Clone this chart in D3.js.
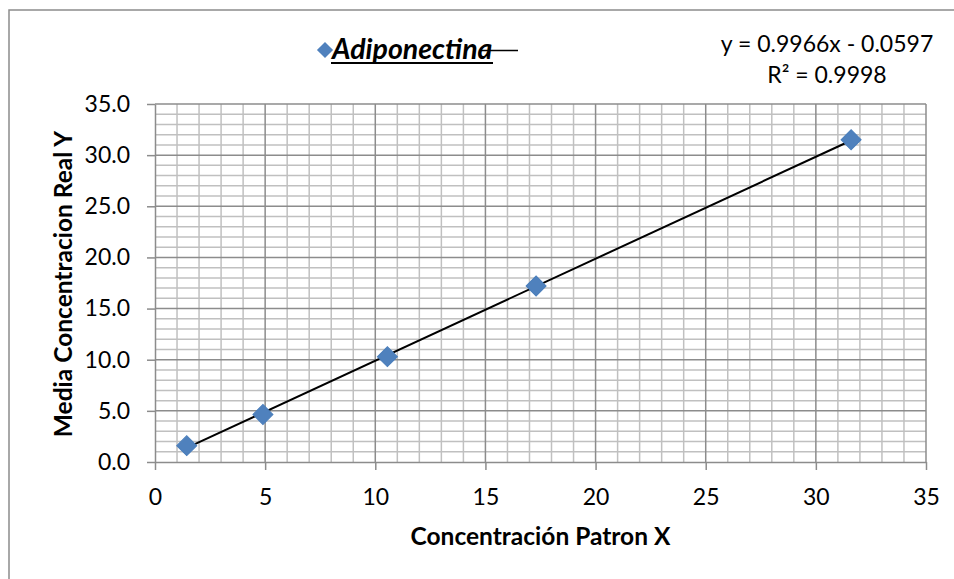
<!DOCTYPE html>
<html>
<head>
<meta charset="utf-8">
<script src="https://cdn.jsdelivr.net/npm/d3@7"></script>
<style>
  body { margin: 0; background: #fff; }
  svg { display: block; font-family: Lato, "Open Sans", sans-serif; }
</style>
</head>
<body>
<svg width="954" height="579"></svg>
<script>
// Data
var xVals = [1.44, 4.9, 10.55, 17.3, 31.6];
var yVals = [1.6, 4.65, 10.3, 17.2, 31.5];
var xTicks = [0, 5, 10, 15, 20, 25, 30, 35];
var yTicks = [0, 5, 10, 15, 20, 25, 30, 35];
var trendSlope = 0.9966;
var trendIntercept = -0.0597;
var seriesName = "Adiponectina";
var eqLines = ["y = 0.9966x - 0.0597", "R² = 0.9998"];

var svg = d3.select("svg");

// plot area
var plotL = 155, plotR = 926, plotT = 104, plotB = 462;

var x = d3.scaleLinear().domain([0, 35]).range([plotL, plotR]);
var y = d3.scaleLinear().domain([0, 35]).range([plotB, plotT]);

// outer chart border (only left/top visible in the crop)
svg.append("rect")
    .attr("x", 9).attr("y", 10)
    .attr("width", 1000).attr("height", 700)
    .attr("fill", "none")
    .attr("stroke", "#8c8c8c")
    .attr("stroke-width", 1.5);

// minor grid
var minor = d3.range(0, 36).filter(d => d % 5 !== 0);
var grid = svg.append("g");
grid.selectAll(".mx").data(minor).enter().append("line")
    .attr("x1", d => x(d)).attr("x2", d => x(d))
    .attr("y1", plotT).attr("y2", plotB)
    .attr("stroke", "#c0c0c0").attr("stroke-width", 1.5);
grid.selectAll(".my").data(minor).enter().append("line")
    .attr("y1", d => y(d)).attr("y2", d => y(d))
    .attr("x1", plotL).attr("x2", plotR)
    .attr("stroke", "#c0c0c0").attr("stroke-width", 1.5);

// major grid
grid.selectAll(".Mx").data(xTicks.slice(1)).enter().append("line")
    .attr("x1", d => x(d)).attr("x2", d => x(d))
    .attr("y1", plotT).attr("y2", plotB)
    .attr("stroke", "#8c8c8c").attr("stroke-width", 1.5);
grid.selectAll(".My").data(yTicks.slice(1)).enter().append("line")
    .attr("y1", d => y(d)).attr("y2", d => y(d))
    .attr("x1", plotL).attr("x2", plotR)
    .attr("stroke", "#8c8c8c").attr("stroke-width", 1.5);

// axes
var xAxis = svg.append("g")
    .attr("transform", "translate(0," + plotB + ")")
    .call(d3.axisBottom(x).tickValues(xTicks).tickSize(8).tickPadding(19).tickSizeOuter(0));
var yAxis = svg.append("g")
    .attr("transform", "translate(" + plotL + ",0)")
    .call(d3.axisLeft(y).tickValues(yTicks).tickFormat(d3.format(".1f")).tickSize(8).tickPadding(17).tickSizeOuter(0));

[xAxis, yAxis].forEach(function(a) {
    a.select(".domain").attr("stroke", "#8c8c8c").attr("stroke-width", 1.5);
    a.selectAll(".tick line").attr("stroke", "#8c8c8c").attr("stroke-width", 1.5);
    a.selectAll(".tick text")
        .attr("fill", "#000")
        .style("font-size", "23px")
        .style("font-family", "Lato, sans-serif");
});

// trendline
var x0 = d3.min(xVals), x1 = d3.max(xVals);
svg.append("line")
    .attr("x1", x(x0)).attr("y1", y(trendSlope * x0 + trendIntercept))
    .attr("x2", x(x1)).attr("y2", y(trendSlope * x1 + trendIntercept))
    .attr("stroke", "#000").attr("stroke-width", 2);

// markers
var diamond = d3.symbol().type(d3.symbolSquare).size(200);
svg.append("g").selectAll("path")
    .data(xVals.map((d, i) => [d, yVals[i]]))
    .enter().append("path")
    .attr("d", diamond)
    .attr("transform", d => "translate(" + x(d[0]) + "," + y(d[1]) + ") rotate(45)")
    .attr("fill", "#4f81bd")
    .attr("stroke", "#4a7ebb")
    .attr("stroke-width", 1);

// axis titles
svg.append("text")
    .attr("x", (plotL + plotR) / 2).attr("y", 545)
    .attr("text-anchor", "middle")
    .style("font-size", "24.5px").style("font-weight", "bold")
    .text("Concentración Patron X");

svg.append("text")
    .attr("transform", "translate(72,284) rotate(-90)")
    .attr("text-anchor", "middle")
    .style("font-size", "24.5px").style("font-weight", "bold")
    .text("Media Concentracion Real Y");

// legend
var lg = svg.append("g");
lg.append("path")
    .attr("d", d3.symbol().type(d3.symbolSquare).size(130))
    .attr("transform", "translate(325,50) rotate(45)")
    .attr("fill", "#4f81bd");
lg.append("text")
    .attr("x", 332).attr("y", 59)
    .style("font-size", "28.5px").style("font-weight", "bold").style("font-style", "italic")
    .text(seriesName);
lg.append("line")
    .attr("x1", 331).attr("x2", 493).attr("y1", 63).attr("y2", 63)
    .attr("stroke", "#000").attr("stroke-width", 2);
lg.append("line")
    .attr("x1", 480).attr("x2", 518).attr("y1", 50.5).attr("y2", 50.5)
    .attr("stroke", "#000").attr("stroke-width", 1.5);

// trendline equation
svg.append("g").selectAll("text")
    .data(eqLines).enter().append("text")
    .attr("x", 827)
    .attr("y", (d, i) => 52 + i * 31)
    .attr("text-anchor", "middle")
    .style("font-size", "23px")
    .text(d => d);
</script>
</body>
</html>
